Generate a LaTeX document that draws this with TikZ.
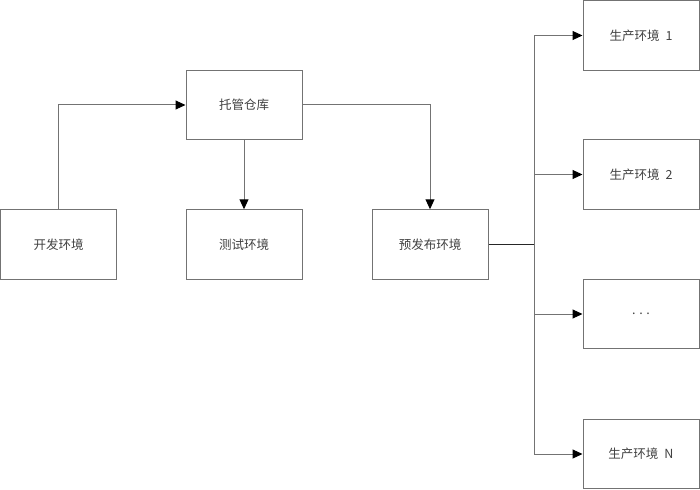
\documentclass[tikz,border=0pt]{standalone}
\usepackage{fontspec}
\setmainfont{Noto Sans CJK SC}
\usetikzlibrary{arrows.meta}
\begin{document}
\begin{tikzpicture}[x=1pt,y=-1pt,
  box/.style={draw=black!55,line width=1pt,minimum width=116pt,minimum height=69.5pt,inner sep=0pt,
    text=black!75,font=\fontsize{12.5pt}{14pt}\selectfont},
  conn/.style={draw=black!55,line width=1pt,-{Triangle[length=10pt,width=9pt]},arrows={[color=black]}},
  plain/.style={draw=black!55,line width=1pt}]
\useasboundingbox (0,0) rectangle (700,489);
\node[box] (dev) at (58.5,244.5) {开发环境};
\node[box] (repo) at (244,105) {托管仓库};
\node[box] (test) at (244,244.5) {测试环境};
\node[box] (pre) at (430,244.5) {预发布环境};
\node[box] (p1) at (641,35.5) {生产环境\hspace{6pt}1};
\node[box] (p2) at (641,174.5) {生产环境\hspace{6pt}2};
\node[box] (pd) at (641,314) {. . .};
\node[box] (pN) at (641,454) {生产环境\hspace{6pt}N};
\coordinate (j) at (534,244.5);
\draw[conn] (dev.north) |- (repo.west);
\draw[conn] (repo.south) -- (test.north);
\draw[conn] (repo.east) -| (pre.north);
\draw[line width=1pt,black!85] (pre.east) -- (j);
\draw[conn] (j) |- (p1.west);
\draw[conn] (j) |- (p2.west);
\draw[conn] (j) |- (pd.west);
\draw[conn] (j) |- (pN.west);
\end{tikzpicture}
\end{document}
